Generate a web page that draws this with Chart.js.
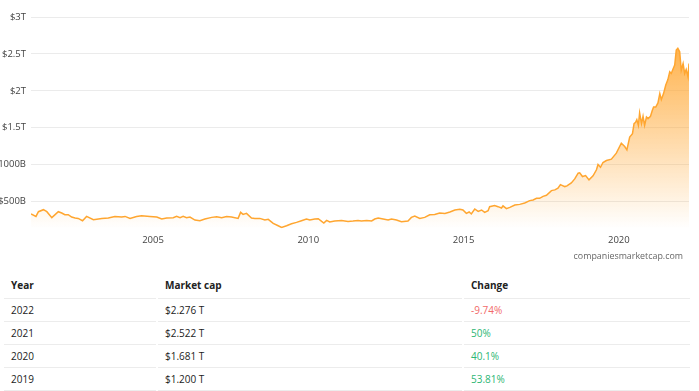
<!DOCTYPE html>
<html>
<head>
<meta charset="utf-8">
<script src="https://cdn.jsdelivr.net/npm/chart.js@4"></script>
<style>
  html, body { margin: 0; padding: 0; background: #fff; width: 699px; height: 391px; overflow: hidden; font-family: "Open Sans", sans-serif; }
  #wrap { position: absolute; left: 0; top: 0; width: 699px; height: 256px; }
  #credit { position: absolute; right: 16px; top: 249px; font-size: 8.9px; color: #666; font-family: "Open Sans", sans-serif; }
  table { position: absolute; left: 2px; top: 272px; width: 690px; border-collapse: separate; border-spacing: 2px 0; font-size: 10px; color: #222; }
  td, th { text-align: left; padding: 0 0 0 7px; height: 22px; border-bottom: 1.5px solid #ececec; font-weight: normal; }
  th { font-weight: bold; height: 26px; }
  .neg { color: #f26a6a; }
  .pos { color: #2bb673; }
</style>
</head>
<body>
<div id="wrap"><canvas id="c"></canvas></div>
<div id="credit">companiesmarketcap.com</div>
<table>
  <thead><tr><th style="width:145px">Year</th><th style="width:297px">Market cap</th><th>Change</th></tr></thead>
  <tbody id="tb"></tbody>
</table>
<script>
// Market cap in billions USD, x as decimal year
const years = [2001.07,2001.23,2001.31,2001.47,2001.58,2001.74,2001.95,2002.06,2002.16,2002.27,2002.38,2002.49,2002.59,2002.73,2002.86,2003.08,2003.35,2003.56,2003.77,2003.99,2004.10,2004.26,2004.47,2004.63,2004.90,2005.12,2005.28,2005.44,2005.65,2005.76,2005.87,2005.97,2006.08,2006.19,2006.35,2006.51,2006.67,2006.89,2007.05,2007.21,2007.37,2007.53,2007.74,2007.82,2007.90,2008.01,2008.17,2008.28,2008.44,2008.60,2008.71,2008.87,2009.03,2009.14,2009.30,2009.46,2009.62,2009.78,2009.94,2010.05,2010.21,2010.32,2010.43,2010.50,2010.59,2010.69,2010.85,2011.07,2011.28,2011.44,2011.60,2011.71,2011.88,2012.04,2012.14,2012.25,2012.41,2012.57,2012.68,2012.84,2013.00,2013.21,2013.32,2013.43,2013.59,2013.75,2013.91,2014.07,2014.23,2014.40,2014.56,2014.72,2014.88,2014.98,2015.09,2015.18,2015.25,2015.36,2015.47,2015.58,2015.68,2015.79,2015.84,2016.00,2016.11,2016.22,2016.27,2016.38,2016.49,2016.65,2016.81,2016.97,2017.13,2017.24,2017.35,2017.45,2017.56,2017.67,2017.83,2017.94,2018.04,2018.12,2018.26,2018.33,2018.47,2018.58,2018.69,2018.74,2018.83,2018.93,2019.04,2019.17,2019.28,2019.33,2019.41,2019.49,2019.60,2019.76,2019.92,2020.08,2020.19,2020.26,2020.35,2020.44,2020.49,2020.54,2020.58,2020.63,2020.67,2020.73,2020.78,2020.83,2020.89,2020.94,2021.02,2021.08,2021.12,2021.19,2021.26,2021.32,2021.37,2021.44,2021.51,2021.58,2021.64,2021.69,2021.74,2021.80,2021.85,2021.90,2021.96,2022.01,2022.07,2022.12,2022.17,2022.23,2022.26];
const marketCap = [333,300,364,391,364,283,364,346,323,323,292,278,273,242,300,255,273,278,300,292,300,273,300,310,300,292,265,278,283,300,283,300,283,292,251,242,265,287,296,283,300,292,273,355,327,341,278,273,273,251,260,205,174,151,174,201,219,242,265,251,265,269,232,210,246,224,238,246,232,238,246,238,246,238,265,278,265,251,265,251,228,238,287,306,273,287,323,327,346,341,360,387,396,387,341,360,333,401,368,387,355,378,432,446,432,414,442,405,423,455,463,482,514,523,545,545,572,586,649,659,681,731,704,713,754,808,885,890,840,853,795,849,931,1003,966,1030,1057,1075,1156,1292,1247,1202,1374,1420,1556,1573,1610,1533,1700,1556,1655,1533,1645,1624,1655,1736,1781,1781,1836,1963,1882,1963,2076,2153,2257,2235,2289,2348,2552,2575,2529,2280,2371,2235,2289,2189,2371];

const yTickValues = [500,1000,1500,2000,2500,3000];
const yTickLabels = ['$500B','$1000B','$1.5T','$2T','$2.5T','$3T'];
const xTickValues = [2005,2010,2015,2020];

const tableYears = ['2022','2021','2020','2019'];
const tableCaps = ['$2.276 T','$2.522 T','$1.681 T','$1.200 T'];
const tableChanges = ['-9.74%','50%','40.1%','53.81%'];

const tb = document.getElementById('tb');
tableYears.forEach((y,i)=>{
  const tr = document.createElement('tr');
  const neg = tableChanges[i].startsWith('-');
  tr.innerHTML = '<td>'+y+'</td><td>'+tableCaps[i]+'</td><td class="'+(neg?'neg':'pos')+'">'+tableChanges[i]+'</td>';
  tb.appendChild(tr);
});

const font = { family: '"Open Sans", sans-serif', size: 9.5 };
new Chart(document.getElementById('c'), {
  type: 'line',
  data: {
    datasets: [{
      data: years.map((x,i)=>({x:x, y:marketCap[i]})),
      borderColor: '#ffa630',
      borderWidth: 1.5,
      pointRadius: 0,
      tension: 0,
      fill: 'start',
      backgroundColor: (ctx) => {
        const ca = ctx.chart.chartArea;
        if (!ca) return 'rgba(255,166,48,0.3)';
        const g = ctx.chart.ctx.createLinearGradient(0, ca.top, 0, ca.bottom);
        g.addColorStop(0, 'rgba(255,166,48,1)');
        g.addColorStop(1, 'rgba(255,166,48,0)');
        return g;
      }
    }]
  },
  options: {
    responsive: true,
    maintainAspectRatio: false,
    animation: false,
    layout: { padding: { top: 17, right: 10, bottom: 4, left: 0 } },
    plugins: { legend: { display: false }, tooltip: { enabled: false } },
    scales: {
      x: {
        type: 'linear',
        min: 2001.07, max: 2022.26,
        grid: { display: false, drawTicks: false },
        border: { display: false },
        afterBuildTicks: (s) => { s.ticks = xTickValues.map(v=>({value:v})); },
        ticks: { color: '#444', font: font, padding: 6, maxRotation: 0, autoSkip: false,
          callback: (v) => String(v) }
      },
      y: {
        min: 135, max: 3000,
        grid: { color: '#ebebeb', drawTicks: false },
        border: { display: false },
        afterBuildTicks: (s) => { s.ticks = yTickValues.map(v=>({value:v})); },
        afterFit: (s) => { s.width = 31; },
        ticks: { color: '#444', font: font, padding: 5,
          callback: (v) => { const i = yTickValues.indexOf(v); return i >= 0 ? yTickLabels[i] : ''; } }
      }
    }
  }
});
</script>
</body>
</html>
